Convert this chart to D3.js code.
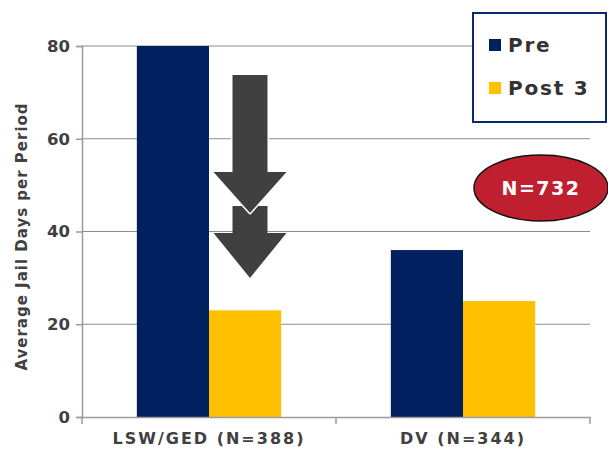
<!DOCTYPE html>
<html><head><meta charset="utf-8">
<script src="https://cdn.jsdelivr.net/npm/d3@7"></script>
<style>body{margin:0;background:#fff}svg{display:block}text{font-family:"DejaVu Sans",Verdana,sans-serif;font-weight:bold}</style>
</head><body><svg id="c" width="608" height="452"></svg>
<script>
const categories = ["LSW/GED (N=388)", "DV (N=344)"];
const seriesNames = ["Pre", "Post 3"];
const preValues = [80, 36];
const post3Values = [23, 25];
const yTicks = [0, 20, 40, 60, 80];
const colors = ["#002060", "#ffc000"];

const svg = d3.select("#c");
const m = {l: 82, r: 590, t: 46, b: 417};
const x = d3.scaleBand().domain(categories).range([m.l, m.r]).paddingInner(0).paddingOuter(0);
const x1 = d3.scaleBand().domain(seriesNames).range([0, x.bandwidth()]).paddingInner(0).paddingOuter(0.76);
const y = d3.scaleLinear().domain([0, 80]).range([m.b, m.t]);

// gridlines
svg.append("g").selectAll("line").data(yTicks.filter(d => d > 0)).join("line")
  .attr("x1", m.l).attr("x2", m.r).attr("y1", d => y(d)).attr("y2", d => y(d))
  .attr("stroke", "#8c8c8c").attr("stroke-width", 1.2);

// y axis
const ya = svg.append("g").attr("transform", `translate(${m.l},0)`)
  .call(d3.axisLeft(y).tickValues(yTicks).tickSize(6).tickPadding(6).tickFormat(d3.format("d")));
ya.select(".domain").attr("stroke", "#9a9a9a").attr("stroke-width", 1.5);
ya.selectAll(".tick line").attr("stroke", "#9a9a9a").attr("stroke-width", 1.5);
ya.selectAll(".tick text").attr("font-size", 16.5).attr("fill", "#404040").attr("font-family", "DejaVu Sans").attr("font-weight", "bold");

// bars
const data = categories.map((c, i) => ({c, vals: [preValues[i], post3Values[i]]}));
const g = svg.append("g").selectAll("g").data(data).join("g").attr("transform", d => `translate(${x(d.c)},0)`);
g.selectAll("rect").data(d => d.vals.map((v, j) => ({s: seriesNames[j], v, j}))).join("rect")
  .attr("x", d => x1(d.s)).attr("width", x1.bandwidth())
  .attr("y", d => y(d.v)).attr("height", d => y(0) - y(d.v))
  .attr("fill", d => colors[d.j]);

// x axis
const xa = svg.append("g").attr("transform", `translate(0,${m.b})`)
  .call(d3.axisBottom(x).tickSize(0).tickPadding(16));
xa.select(".domain").attr("stroke", "#9a9a9a").attr("stroke-width", 1.5);
xa.selectAll(".tick text").attr("font-size", 16).attr("fill", "#404040").attr("font-family", "DejaVu Sans").attr("font-weight", "bold").attr("letter-spacing", 2);
const bounds = [m.l, x(categories[1]), m.r];
svg.append("g").selectAll("line").data(bounds).join("line")
  .attr("x1", d => d).attr("x2", d => d).attr("y1", m.b).attr("y2", m.b + 7)
  .attr("stroke", "#9a9a9a").attr("stroke-width", 1.5);

// y title
svg.append("text").attr("transform", `translate(27,${(m.t + m.b) / 2 + 5}) rotate(-90)`)
  .attr("text-anchor", "middle").attr("font-size", 15).attr("fill", "#404040")
  .attr("letter-spacing", 1).text("Average Jail Days per Period");

// arrows
function arrow(top, headY, tipY, cx, stroke) {
  const sw = 17.5, hw = 36.5;
  const p = `M${cx - sw},${top} L${cx + sw},${top} L${cx + sw},${headY} L${cx + hw},${headY} L${cx},${tipY} L${cx - hw},${headY} L${cx - sw},${headY} Z`;
  svg.append("path").attr("d", p).attr("fill", "#404040")
    .attr("stroke", stroke || "none").attr("stroke-width", stroke ? 3 : 0).attr("stroke-linejoin", "round")
    .attr("paint-order", "stroke");
}
const acx = 250;
arrow(206, 233, 278, acx);
arrow(75, 172, 213, acx, "#ffffff");

// legend
const lg = svg.append("g");
lg.append("rect").attr("x", 473).attr("y", 13).attr("width", 133).attr("height", 109)
  .attr("fill", "#fff").attr("stroke", "#0b2a6e").attr("stroke-width", 2);
seriesNames.forEach((s, i) => {
  lg.append("rect").attr("x", 489).attr("y", 39 + i * 43).attr("width", 12).attr("height", 12).attr("fill", colors[i]);
  lg.append("text").attr("x", 508).attr("y", 52 + i * 43).attr("font-size", 20).attr("fill", "#333").attr("letter-spacing", 1.8).text(s);
});

// N badge
svg.append("ellipse").attr("cx", 541).attr("cy", 188).attr("rx", 67).attr("ry", 33)
  .attr("fill", "#c01f2f").attr("stroke", "#111").attr("stroke-width", 1.5);
svg.append("text").attr("x", 541).attr("y", 195).attr("text-anchor", "middle").attr("font-size", 19)
  .attr("fill", "#fff").attr("letter-spacing", 1.5).text("N=732");
</script></body></html>
